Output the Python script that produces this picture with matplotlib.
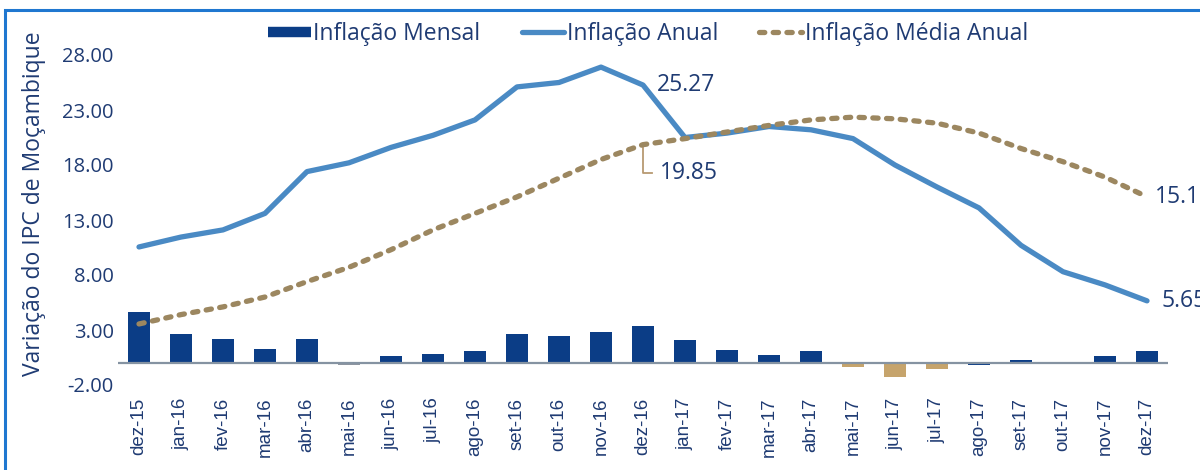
import matplotlib
matplotlib.use("Agg")
import matplotlib.pyplot as plt
from matplotlib.lines import Line2D
from matplotlib.patches import Rectangle
import numpy as np

months = ["dez-15", "jan-16", "fev-16", "mar-16", "abr-16", "mai-16", "jun-16", "jul-16",
          "ago-16", "set-16", "out-16", "nov-16", "dez-16", "jan-17", "fev-17", "mar-17",
          "abr-17", "mai-17", "jun-17", "jul-17", "ago-17", "set-17", "out-17", "nov-17", "dez-17"]

inflacao_mensal = [4.6, 2.6, 2.2, 1.3, 2.2, -0.15, 0.6, 0.8, 1.1, 2.6, 2.5, 2.85, 3.4,
                   2.1, 1.2, 0.75, 1.1, -0.4, -1.3, -0.55, -0.15, 0.25, 0.08, 0.6, 1.1]

inflacao_anual = [10.55, 11.45, 12.1, 13.6, 17.4, 18.2, 19.6, 20.7, 22.1, 25.1, 25.5, 26.9, 25.27,
                  20.5, 20.9, 21.5, 21.2, 20.4, 18.0, 16.0, 14.1, 10.7, 8.3, 7.1, 5.65]

inflacao_media = [3.55, 4.4, 5.1, 6.0, 7.4, 8.7, 10.3, 12.1, 13.6, 15.1, 16.8, 18.5, 19.85,
                  20.4, 21.0, 21.6, 22.1, 22.35, 22.2, 21.8, 20.9, 19.5, 18.3, 16.9, 15.11]

yticks = [-2, 3, 8, 13, 18, 23, 28]
ytick_labels = ["-2.00", "3.00", "8.00", "13.00", "18.00", "23.00", "28.00"]

NAVY = "#0b3d86"
LINE = "#4a8ac4"
DASH = "#9c8760"
NEG = "#c6a46c"
TXT = "#1f3b73"

legend_labels = ["Inflação Mensal", "Inflação Anual", "Inflação Média Anual"]
ylabel = "Variação do IPC de Moçambique"

fig = plt.figure(figsize=(12, 4.7), dpi=100)
ax = fig.add_axes([118 / 1200, (470 - 385) / 470, 1050 / 1200, 330 / 470])

x = np.arange(len(months))
bar_colors = []
for i, v in enumerate(inflacao_mensal):
    if v < 0 and months[i] in ("mai-17", "jun-17", "jul-17"):
        bar_colors.append(NEG)
    elif v < 0 and months[i] == "mai-16":
        bar_colors.append("#8e96a0")
    else:
        bar_colors.append(NAVY)
ax.bar(x, inflacao_mensal, width=0.52, color=bar_colors, zorder=2)
ax.axhline(0, color="#8593a2", lw=1.6, zorder=3)

ax.plot(x, inflacao_anual, color=LINE, lw=3.8, solid_joinstyle="round",
        solid_capstyle="round", zorder=4)
ax.plot(x, inflacao_media, color=DASH, lw=3.8, dashes=(1.0, 1.6),
        dash_capstyle="round", zorder=5)

ax.set_xlim(-0.5, len(months) - 0.5)
ax.set_ylim(-2, 28)
ax.set_yticks(yticks)
ax.set_yticklabels(ytick_labels)
ax.set_xticks(x)
ax.set_xticklabels(months, rotation=90)
for sp in ax.spines.values():
    sp.set_visible(False)
ax.tick_params(axis="both", length=0)
ax.tick_params(axis="y", pad=3, labelsize=14.5, labelcolor=TXT)
ax.tick_params(axis="x", pad=9, labelsize=13.5, labelcolor=TXT)
for lab in ax.get_yticklabels():
    lab.set_fontfamily("Open Sans")
for lab in ax.get_xticklabels():
    lab.set_fontfamily("Liberation Sans")

ax.set_ylabel(ylabel, fontsize=16.5, color=TXT, family="Open Sans")
ax.yaxis.set_label_coords(-0.069, 0.55)

# annotations
FS = 16.5
i_d16 = months.index("dez-16")
ax.text(i_d16 + 0.33, inflacao_anual[i_d16], f"{inflacao_anual[i_d16]:.2f}",
        fontsize=FS, color=TXT, family="Open Sans", va="center", ha="left")
y_lab = inflacao_media[i_d16] - 2.6
ax.plot([i_d16, i_d16, i_d16 + 0.22], [inflacao_media[i_d16], y_lab, y_lab],
        color="#b89a72", lw=1.3, zorder=3)
ax.text(i_d16 + 0.4, y_lab, f"{inflacao_media[i_d16]:.2f}", fontsize=FS, color=TXT,
        family="Open Sans", va="center", ha="left")
last = len(months) - 1
ax.text(last + 0.2, inflacao_media[last], f"{inflacao_media[last]:.2f}", fontsize=FS,
        color=TXT, family="Open Sans", va="center", ha="left", clip_on=False)
ax.text(last + 0.35, inflacao_anual[last], f"{inflacao_anual[last]:.2f}", fontsize=FS,
        color=TXT, family="Open Sans", va="center", ha="left", clip_on=False)

handles = [Line2D([0], [0], color=NAVY, lw=7.5, solid_capstyle="butt"),
           Line2D([0], [0], color=LINE, lw=3.8, solid_capstyle="round"),
           Line2D([0], [0], color=DASH, lw=3.8, dashes=(1.0, 1.6), dash_capstyle="round")]
leg = fig.legend(handles, legend_labels, loc="center", bbox_to_anchor=(0.54, 0.928),
                 ncol=3, frameon=False, fontsize=FS, handlelength=1.85,
                 handletextpad=0.12, columnspacing=1.8)
for t in leg.get_texts():
    t.set_color(TXT)
    t.set_fontfamily("Open Sans")

# outer frame
fig.patches.append(Rectangle((5 / 1200, -0.05), 1.2, (470 - 10) / 470 + 0.05,
                             transform=fig.transFigure, fill=False,
                             edgecolor="#1f77d0", lw=2.2))

fig.savefig("out.png", dpi=100)
